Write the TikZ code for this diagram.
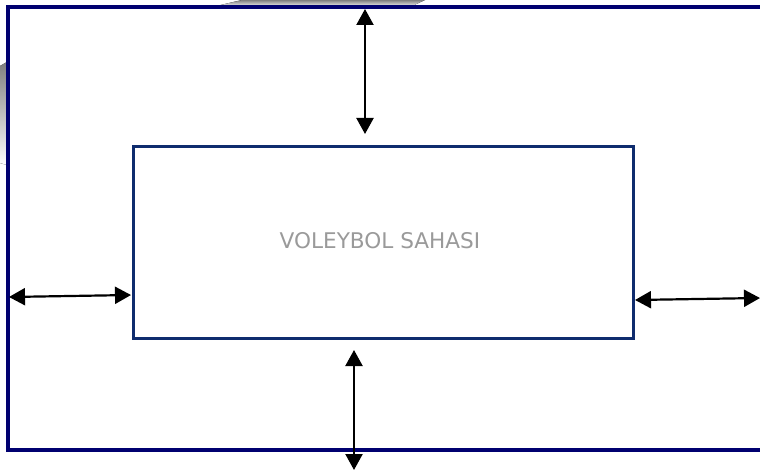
\documentclass[tikz,border=0pt]{standalone}
\usepackage{fontspec}
\setmainfont{DejaVu Sans}
\usetikzlibrary{arrows.meta}
\definecolor{outerblue}{HTML}{000070}
\definecolor{innerblue}{HTML}{0F2C6E}
\definecolor{labelgray}{HTML}{9A9A9A}
\definecolor{shade}{HTML}{E0E0E0}
\tikzset{
  dbl/.style={draw=black, line width=2.2pt, {Triangle[length=16pt,width=17pt]}-{Triangle[length=16pt,width=17pt]}},
}
\begin{document}
\begin{tikzpicture}[x=1pt,y=-1pt]
\useasboundingbox (0,0) rectangle (760,476);
\fill[white] (0,0) rectangle (760,476);
% faint background shapes
\fill[shade] (242,0) -- (425,0) -- (410,7) -- (212,7) -- cycle;
\fill[shade] (0,66) -- (7,62) -- (7,165) -- (0,163) -- cycle;
% outer area
\fill[white] (8,7) rectangle (770,450);
\draw[outerblue, line width=3.2pt] (770,7) -- (8,7) -- (8,450) -- (770,450);
\node[draw=innerblue, line width=2.5pt, minimum width=500pt, minimum height=192pt, inner sep=0pt, anchor=north west] (field) at (132,145) {};
\node[text=labelgray, font=\fontsize{21.6}{26}\selectfont] (label) at (380,241) {VOLEYBOL SAHASI};
% arrow end points
\coordinate (t1) at (365,9);
\coordinate (t2) at (365,134);
\coordinate (b1) at (354,350);
\coordinate (b2) at (354,470);
\coordinate (l1) at (9,297);
\coordinate (l2) at (131,295);
\coordinate (r1) at (635,300);
\coordinate (r2) at (760,298);
\draw[dbl] (t1) -- (t2);
\draw[dbl] (b1) -- (b2);
\draw[dbl] (l1) -- (l2);
\draw[dbl] (r1) -- (r2);
\end{tikzpicture}
\end{document}
